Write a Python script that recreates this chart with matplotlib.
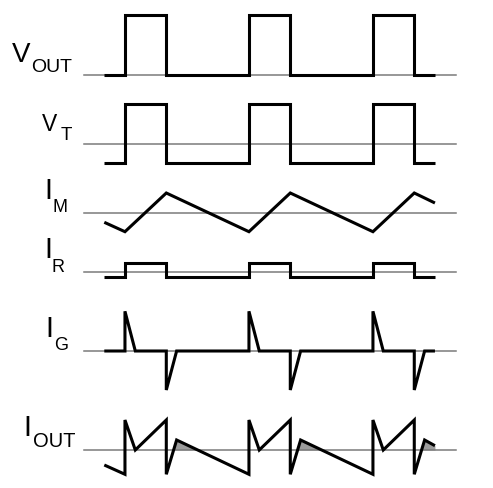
import matplotlib

matplotlib.use("Agg")

import numpy as np
import matplotlib.pyplot as plt

# =========================
# Waveform data (time in units of the switch on-time, amplitudes in px-ish units)
# =========================
T_START = 0.0
T_END = 8.0
rise_times = [0.5, 3.5, 6.5]
fall_times = [1.5, 4.5, 7.5]

# per-trace baseline rows (vertical position) and amplitudes
baseline_rows = {"vout": 75.0, "vt": 144.3, "im": 212.7, "ir": 272.3, "ig": 351.0, "iout": 450.0}

vout_low, vout_high = 0.0, 59.7
vt_low, vt_high = -19.0, 40.0
ir_low, ir_high = -4.4, 9.6

im_t = [0.0, 0.5, 1.5, 3.5, 4.5, 6.5, 7.5, 8.0]
im_v = [-9.6, -19.0, 19.7, -19.0, 19.7, -19.0, 19.7, 9.7]

ig_t = [0.0, 0.5, 0.5, 0.75, 1.5, 1.5, 1.75, 3.5, 3.5, 3.75, 4.5, 4.5, 4.75,
        6.5, 6.5, 6.75, 7.5, 7.5, 7.75, 8.0]
ig_v = [0, 0, 39.7, 0, 0, -39.0, 0, 0, 39.7, 0, 0, -39.0, 0,
        0, 39.7, 0, 0, -39.0, 0, 0]

iout_t = [0.0, 0.5, 0.5, 0.75, 1.5, 1.5, 1.75, 3.5, 3.5, 3.75, 4.5, 4.5, 4.75,
          6.5, 6.5, 6.75, 7.5, 7.5, 7.75, 8.0]
iout_v = [-15.0, -24.3, 30.0, 0.0, 30.0, -24.3, 10.0, -24.3, 30.0, 0.0, 30.0, -24.3, 10.0,
          -24.3, 30.0, 0.0, 30.0, -24.3, 10.0, 4.3]

# labels: (main, sub, main x px, main baseline px, main size, sub x px, sub baseline px, sub size)
labels = [
    ("V", "OUT", 12.0, 62.3, 20, 31.0, 72.3, 14),
    ("V", "T", 42.0, 130.7, 16.5, 60.5, 140.0, 13.5),
    ("I", "M", 44.0, 199.3, 21, 52.0, 211.7, 13),
    ("I", "R", 44.0, 258.3, 21, 51.5, 271.7, 13),
    ("I", "G", 45.0, 337.3, 21, 54.0, 349.8, 13),
    ("I", "OUT", 23.0, 435.7, 21, 32.5, 447.3, 14.5),
]

W, H = 493, 488
LINE_W = 2.2
BASE_W = 1.1
BASE_COLOR = "#7a7a7a"
FILL_COLOR = "#9c9c9c"

plt.rcParams["font.family"] = ["Liberation Sans", "DejaVu Sans"]


def square_wave(low, high):
    t = [T_START]
    v = [low]
    for r, f in zip(rise_times, fall_times):
        t += [r, r, f, f]
        v += [low, high, high, low]
    t.append(T_END)
    v.append(low)
    return np.array(t), np.array(v)


fig = plt.figure(figsize=(W / 100, H / 100), dpi=100)
ax = fig.add_axes([0, 0, 1, 1])
ax.axis("off")

# time axis scale: t=0 at px 104.3, 1 unit = 41.33 px
px_per_unit = 41.33
x0 = -104.3 / px_per_unit
ax.set_xlim(x0, x0 + W / px_per_unit)
ax.set_ylim(H, 0)

traces = {
    "vout": square_wave(vout_low, vout_high),
    "vt": square_wave(vt_low, vt_high),
    "im": (np.array(im_t), np.array(im_v)),
    "ir": square_wave(ir_low, ir_high),
    "ig": (np.array(ig_t), np.array(ig_v, dtype=float)),
    "iout": (np.array(iout_t), np.array(iout_v)),
}

for key, (t, v) in traces.items():
    base = baseline_rows[key]
    ax.plot([-0.5, 8.5], [base, base], color=BASE_COLOR, lw=BASE_W, zorder=2)
    ax.plot(t, base - v, color="black", lw=LINE_W, solid_joinstyle="miter",
            solid_capstyle="butt", zorder=3)

# shaded region of I_OUT above the baseline after each negative spike
t_out, v_out = traces["iout"]
base = baseline_rows["iout"]
for f in fall_times:
    idx = [i for i, tt in enumerate(t_out) if tt >= f][1:]
    run = []
    for i in idx:
        run.append(i)
        if t_out[i] in rise_times or i == len(t_out) - 1:
            break
    ts = t_out[run]
    vs = v_out[run]
    ax.fill_between(ts, base, base - vs, where=vs > 0, interpolate=True,
                    color=FILL_COLOR, lw=0, zorder=1)

for main, sub, mx, my, ms, sx, sy, ss in labels:
    fig.text(mx / W, 1 - my / H, main, fontsize=ms, ha="left", va="baseline")
    fig.text(sx / W, 1 - sy / H, sub, fontsize=ss, ha="left", va="baseline")

fig.savefig("out.png", dpi=100)
